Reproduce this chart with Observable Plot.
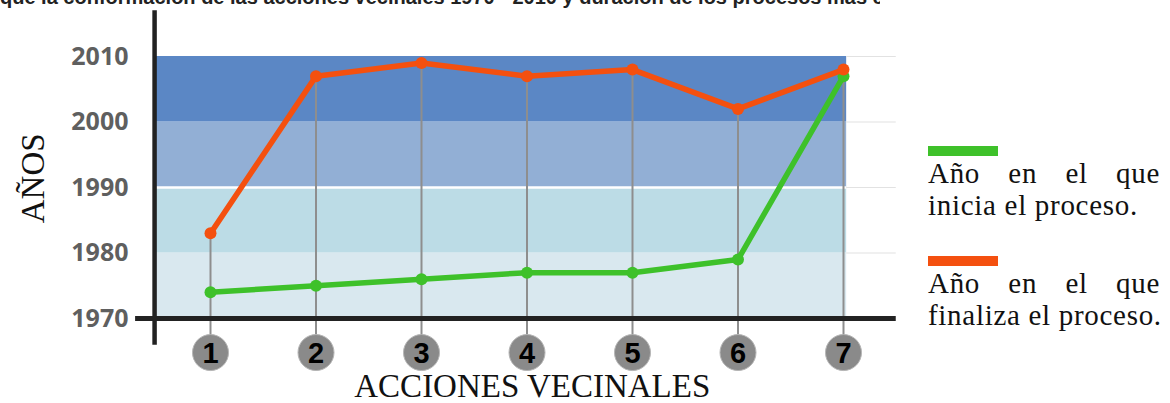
<!DOCTYPE html>
<html>
<head>
<meta charset="utf-8">
<script src="https://cdn.jsdelivr.net/npm/d3@7"></script>
<script src="https://cdn.jsdelivr.net/npm/@observablehq/plot@0.6"></script>
<style>
  html, body { margin: 0; padding: 0; background: #fff; }
  #wrap { position: relative; width: 1170px; height: 403px; overflow: hidden; }
  #title { position: absolute; left: 0; top: 0; height: 8px; overflow: hidden; width: 880px;
           font: bold 20px "Liberation Sans", Arial, sans-serif; color: #222; white-space: nowrap; }
  #title span { display: block; margin-top: -15px; line-height: 24px; }
  .legend { position: absolute; left: 928px; width: 232px; font: 29px "Liberation Serif", "DejaVu Serif", serif;
            color: #111; line-height: 32px; letter-spacing: 0.7px; }
  .swatch { width: 70px; height: 10px; margin-bottom: 1px; }
  .just { text-align: justify; text-align-last: justify; }
  .nw { white-space: nowrap; }
</style>
</head>
<body>
<div id="wrap">
  <div id="title"><span>que la conformación de las acciones vecinales 1970 - 2010 y duración de los procesos más comunes.</span></div>
  <div id="chart"></div>
  <div class="legend" style="top:146px">
    <div class="swatch" style="background:#3ec12a"></div>
    <div class="just">Año en el que</div>
    <div class="nw">inicia el proceso.</div>
  </div>
  <div class="legend" style="top:256px">
    <div class="swatch" style="background:#f4500f"></div>
    <div class="just">Año en el que</div>
    <div class="nw">finaliza el proceso.</div>
  </div>
</div>
<script>
// Data
const acciones = [1, 2, 3, 4, 5, 6, 7];
const anioInicio = [1974, 1975, 1976, 1977, 1977, 1979, 2007];
const anioFin = [1983, 2007, 2009, 2007, 2008, 2002, 2008];
const yTicks = [1970, 1980, 1990, 2000, 2010];
const bandStart = [1970, 1980, 1990, 2000];
const bandEnd = [1980, 1990, 2000, 2010];
const bandColors = ["#d9e8ef", "#bcdce6", "#92afd5", "#5b87c5"];

const rows = acciones.map((a, i) => ({a, inicio: anioInicio[i], fin: anioFin[i]}));
const bands = bandStart.map((s, i) => ({s, e: bandEnd[i], c: bandColors[i]}));

const chart = Plot.plot({
  width: 1170,
  height: 403,
  marginLeft: 155,
  marginRight: 275,
  marginTop: 56,
  marginBottom: 85,
  x: {type: "linear", domain: [1, 7], range: [210, 843], axis: null},
  y: {type: "linear", domain: [1970, 2010], range: [318, 56], axis: null},
  style: {background: "transparent", overflow: "visible"},
  marks: [
    // background bands
    Plot.rect(bands, {x1: 0.48, x2: 7.03, y1: "s", y2: "e", fill: "c"}),
    // white separator at 1990
    Plot.ruleY([1990], {x1: 0.48, x2: 7.03, stroke: "#ffffff", strokeWidth: 2.5}),
    // light gridlines right of bands
    Plot.ruleY([1980, 1990, 2000, 2010], {x1: 7.03, x2: 7.5, stroke: "#e2e2e2", strokeWidth: 1.2}),
    // vertical gray guide lines
    Plot.ruleX(rows, {x: "a", y1: d => Math.max(d.inicio, d.fin), y2: 1965, stroke: "#8e8e8e", strokeWidth: 2}),
    // axes
    Plot.ruleX([0.47], {y1: 1965.9, y2: 2017, stroke: "#222", strokeWidth: 4.5}),
    Plot.ruleY([1970], {x1: 0.29, x2: 7.5, stroke: "#222", strokeWidth: 5}),
    // y tick labels
    Plot.text(yTicks, {y: d => d, text: d => String(d), frameAnchor: "left", dx: -27, textAnchor: "end",
      fontSize: 25, fontWeight: "bold", fill: "#5f5f5f", fontFamily: "'Open Sans', 'Liberation Sans', sans-serif"}),
    // lines
    Plot.line(rows, {x: "a", y: "inicio", stroke: "#3ec12a", strokeWidth: 5.5}),
    Plot.dot(rows, {x: "a", y: "inicio", r: 6, fill: "#3ec12a"}),
    Plot.line(rows, {x: "a", y: "fin", stroke: "#f4500f", strokeWidth: 5.5}),
    Plot.dot(rows, {x: "a", y: "fin", r: 6, fill: "#f4500f"}),
    // numbered circles
    Plot.dot(acciones, {x: d => d, y: 1964.8, r: 18, fill: "#8a8a8a", stroke: "#b5b5b5", strokeWidth: 1}),
    Plot.text(acciones, {x: d => d, y: 1964.8, text: d => String(d), fontSize: 29, fontWeight: 900,
      fill: "#000", fontFamily: "'Liberation Sans', Arial, sans-serif", dy: 1}),
    // axis titles
    Plot.text(["ACCIONES VECINALES"], {x: 4.05, y: 1959.7, text: d => d, fontSize: 33,
      fill: "#111", fontFamily: "'Liberation Serif', serif"}),
    Plot.text(["AÑOS"], {x: -0.68, y: 1991.4, text: d => d, fontSize: 33, rotate: -90,
      fill: "#111", fontFamily: "'Liberation Serif', serif"})
  ]
});
document.getElementById("chart").appendChild(chart);
</script>
</body>
</html>
